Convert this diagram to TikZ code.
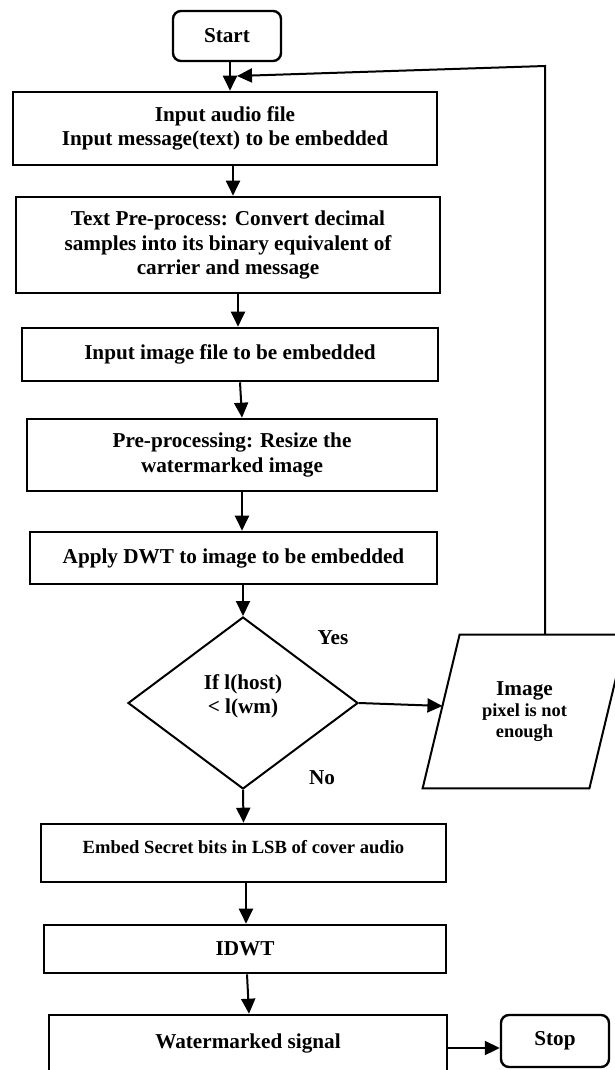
\documentclass[tikz,border=0pt]{standalone}
\usepackage{fontspec}
\setmainfont{Liberation Serif}
\usepackage{tikz}
\usetikzlibrary{arrows.meta,positioning,calc,shapes.geometric}

\begin{document}
\begin{tikzpicture}[x=0.5pt,y=-0.5pt,
    stepbox/.style={draw,line width=1.3pt,align=center,inner sep=0pt,
        font=\bfseries\fontsize{10.6}{12.3}\selectfont},
    termbox/.style={draw,line width=1.2pt,rounded corners=4pt,align=center,
        minimum width=54pt,font=\bfseries\fontsize{10.6}{12.3}\selectfont},
    tag/.style={font=\bfseries\fontsize{10.6}{12.3}\selectfont},
    arr/.style={-{Triangle[length=7.5pt,width=7pt]},line width=1pt}]
\useasboundingbox (0,0) rectangle (615,1070);
\clip (0,0) rectangle (615,1070);
\node[termbox,minimum height=25pt] (start) at (227,36) {Start};
\node[stepbox,minimum width=212pt,minimum height=36.5pt] (in1) at (225,128.5)
    {Input audio file\\Input message(text) to be embedded};
\node[stepbox,minimum width=212pt,minimum height=48pt] (in2) at (228,245)
    {Text Pre-process: Convert decimal\\samples into its binary equivalent of\\carrier and message};
\node[stepbox,minimum width=208pt,minimum height=26.5pt] (in3) at (230,354.5)
    {Input image file to be embedded};
\node[stepbox,minimum width=205pt,minimum height=36pt] (in4) at (232,455)
    {Pre-processing: Resize the\\watermarked image};
\node[stepbox,minimum width=203.5pt,minimum height=26pt] (dwt) at (233.5,558)
    {Apply DWT to image to be embedded};
\node[draw,diamond,line width=1pt,inner sep=0pt,minimum width=115pt,minimum height=86pt,
    align=center,text depth=9pt,font=\bfseries\fontsize{10.6}{12.3}\selectfont] (dec) at (243,703)
    {If l(host)\\< l(wm)};
\node[inner sep=0pt,minimum width=101.5pt,minimum height=76.5pt,align=center,
    font=\bfseries\fontsize{9.2}{10.2}\selectfont] (noimg) at (524.5,711.5)
    {{\fontsize{10.6}{12}\selectfont Image}\\[0.5pt]pixel is not\\enough};
\draw[line width=1pt] ([xshift=18.5pt]noimg.north west) -- (noimg.north east)
    -- ([xshift=-18.5pt]noimg.south east) -- (noimg.south west) -- cycle;
\coordinate (noimgin) at ($([xshift=18.5pt]noimg.north west)!0.464!(noimg.south west)$);
\node[tag] (yes) at (333,638) {Yes};
\node[tag] (no) at (322,778) {No};
\node[stepbox,minimum width=202.5pt,minimum height=29pt,text depth=5.9pt,
    font=\bfseries\fontsize{9.3}{11}\selectfont] (emb) at (243.5,853)
    {Embed Secret bits in LSB of cover audio};
\node[stepbox,minimum width=201pt,minimum height=24pt] (idwt) at (245,949) {IDWT};
\node[stepbox,minimum width=199pt,minimum height=35pt,text depth=9pt] (wm) at (248,1050)
    {Watermarked signal};
\node[termbox,minimum height=26pt] (stop) at (555,1041) {Stop};
\coordinate (turn) at (545,66);
\coordinate (back) at (237,76);
\draw[arr] ([xshift=1.5pt]start.south) -- ([xshift=2.5pt]in1.north);
\draw[arr] ([xshift=4pt]in1.south) -- ([xshift=2.5pt]in2.north);
\draw[arr] ([xshift=5pt]in2.south) -- ([xshift=4pt]in3.north);
\draw[arr] ([xshift=5pt]in3.south) -- ([xshift=5pt]in4.north);
\draw[arr] ([xshift=5pt]in4.south) -- ([xshift=4.25pt]dwt.north);
\draw[arr] ([xshift=4.75pt]dwt.south) -- (dec.north);
\draw[arr] (dec.south) -- (emb.north);
\draw[arr] ([xshift=1.25pt]emb.south) -- ([xshift=0.5pt]idwt.north);
\draw[arr] ([xshift=1pt]idwt.south) -- ([xshift=0.5pt]wm.north);
\draw[arr] (dec.east) -- (noimgin);
\draw[arr] ([yshift=-3.5pt]stop.west -| wm.east) -- ([yshift=-3.5pt]stop.west);
\draw[arr] (noimg.north -| turn) -- (turn) -- (back);
\end{tikzpicture}
\end{document}
